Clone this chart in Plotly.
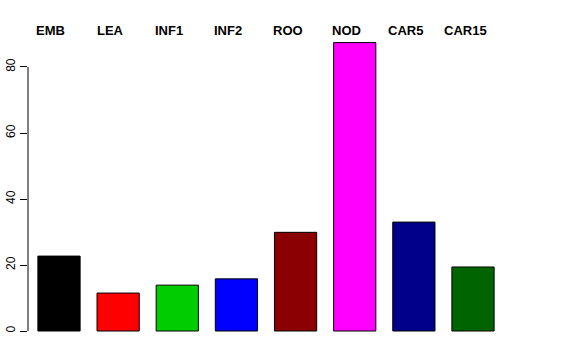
import plotly.graph_objects as go

categories = ["EMB", "LEA", "INF1", "INF2", "ROO", "NOD", "CAR5", "CAR15"]
values = [22.7, 11.5, 13.9, 15.8, 29.9, 87.4, 33.0, 19.4]
colors = ["#000000", "#FF0000", "#00CD00", "#0000FF", "#8B0000", "#FF00FF", "#00008B", "#006400"]
ytick_vals = [0, 20, 40, 60, 80]

fig = go.Figure()
fig.add_trace(go.Bar(
    x=categories, y=values, width=0.714,
    marker=dict(color=colors, line=dict(color="#000000", width=1)),
    hoverinfo="skip",
))

for c in categories:
    fig.add_annotation(
        x=c, y=1, xref="x", yref="paper", text=f"<b>{c}</b>",
        showarrow=False, xanchor="center", yanchor="middle",
        xshift=-8, yshift=10,
        font=dict(family="Liberation Sans", size=13, color="#000000"),
    )

# y axis line only across the tick range (as in base R axis)
fig.add_shape(type="line", xref="paper", yref="y", x0=0, x1=0,
              y0=ytick_vals[0], y1=ytick_vals[-1],
              line=dict(color="#000000", width=1))

fig.update_layout(
    width=576, height=360,
    margin=dict(l=28, r=72, t=40, b=17, autoexpand=False),
    paper_bgcolor="white", plot_bgcolor="white",
    showlegend=False,
    font=dict(family="Liberation Sans", size=12, color="#000000"),
    xaxis=dict(range=[-0.524, 7.524], showticklabels=False, showgrid=False,
               zeroline=False, showline=False, ticks="", automargin=False),
    yaxis=dict(range=[-3.636, 88.18], tickvals=ytick_vals, ticks="outside",
               ticklen=7, tickcolor="#000000", tickwidth=1, tickangle=-90,
               showgrid=False, zeroline=False, showline=False, automargin=False,
               tickfont=dict(family="Liberation Sans", size=12, color="#000000")),
)

fig.write_html("out.html", config={"displayModeBar": False},
               post_script="document.body.style.margin='0';document.body.style.padding='0';")
